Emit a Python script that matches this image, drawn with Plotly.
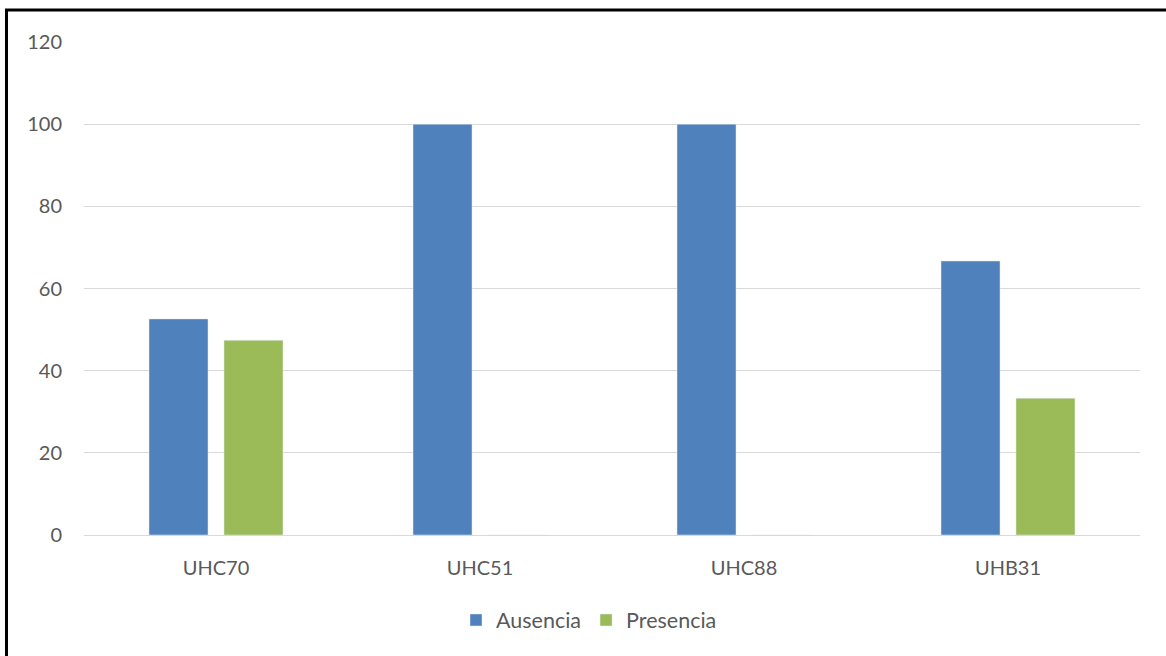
import plotly.graph_objects as go

categories = ["UHC70", "UHC51", "UHC88", "UHB31"]
ausencia = [52.6, 100, 100, 66.7]
presencia = [47.4, 0, 0, 33.3]
y_ticks = [0, 20, 40, 60, 80, 100, 120]

BLUE = "#4F81BD"
GREEN = "#9BBB59"
TEXT = "#595959"
GRID = "#D9D9D9"
FONT = "Lato, 'Open Sans', sans-serif"

fig = go.Figure()
fig.add_trace(go.Bar(x=categories, y=ausencia, name="Ausencia", marker_color=BLUE))
fig.add_trace(go.Bar(x=categories, y=presencia, name="Presencia", marker_color=GREEN))

W, H = 1166, 656
ml, mr, mt, mb = 84, 26, 42, 121
pw, ph = W - ml - mr, H - mt - mb

def px_x(p):
    return (p - ml) / pw

def px_y(p):
    return (H - mb - p) / ph

fig.update_layout(
    width=W, height=H,
    margin=dict(l=ml, r=mr, t=mt, b=mb, pad=0),
    paper_bgcolor="white", plot_bgcolor="white",
    barmode="group", bargap=0.432, bargroupgap=0.213,
    font=dict(family=FONT, size=20, color=TEXT),
    showlegend=True,
    legend=dict(orientation="h", x=px_x(456), xanchor="left", y=px_y(620), yanchor="middle",
                font=dict(size=21.5, color=TEXT), traceorder="normal"),
    xaxis=dict(showgrid=False, showline=True, linecolor=GRID, linewidth=1,
               ticks="outside", ticklen=15, tickcolor="white",
               tickfont=dict(size=20, color=TEXT)),
    yaxis=dict(range=[0, 120], tickvals=y_ticks, showgrid=True, gridcolor=GRID, gridwidth=1,
               zeroline=False, showline=False, ticks="outside", ticklen=17, tickcolor="white",
               tickfont=dict(size=20, color=TEXT)),
    shapes=[dict(type="rect", xref="paper", yref="paper",
                 x0=px_x(6.5), x1=px_x(1200), y0=px_y(700), y1=px_y(10),
                 line=dict(color="black", width=3), fillcolor="rgba(0,0,0,0)", layer="above")],
)

fig.write_html("out.html")
